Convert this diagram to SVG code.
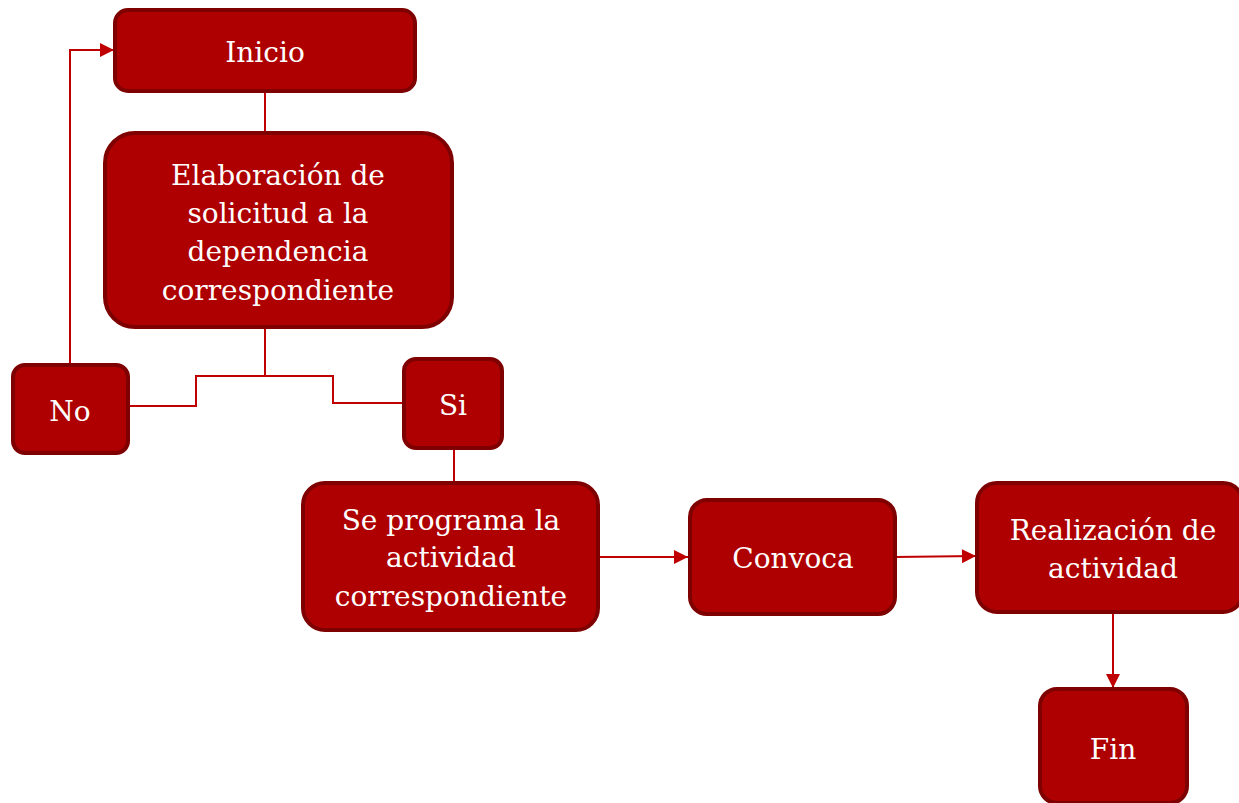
<svg xmlns="http://www.w3.org/2000/svg" width="1239" height="803" viewBox="0 0 1239 803">
<style>
.box{fill:#AE0000;stroke:#7F0000;stroke-width:4}
.t{font-family:"DejaVu Serif","Liberation Serif",serif;font-size:28px;fill:#FFFFFF;text-anchor:middle;dominant-baseline:central}
.c{fill:none;stroke:#C00000;stroke-width:2}
</style>
<defs>
<marker id="arr" viewBox="0 0 10 10" refX="10" refY="5" markerWidth="7.5" markerHeight="7" orient="auto" markerUnits="strokeWidth">
<path d="M0,0 L10,5 L0,10 Z" fill="#C00000"/>
</marker>
</defs>
<rect width="1239" height="803" fill="#FFFFFF"/>
<g id="connectors">
<path class="c" d="M265,91 V133"/>
<path class="c" d="M265,327 V376 H196 V406 H128"/>
<path class="c" d="M265,376 H333 V403 H404"/>
<path class="c" d="M70,365 V50 H114" marker-end="url(#arr)"/>
<path class="c" d="M454,448 V483"/>
<path class="c" d="M598,557 H688" marker-end="url(#arr)"/>
<path class="c" d="M895,557 L976,556" marker-end="url(#arr)"/>
<path class="c" d="M1113,612 V688" marker-end="url(#arr)"/>
</g>
<g id="inicio">
<rect class="box" x="115" y="10" width="300" height="81" rx="13"/>
<text class="t" x="265" y="52">Inicio</text>
</g>
<g id="elaboracion">
<rect class="box" x="105" y="133" width="347" height="194" rx="30"/>
<text class="t" x="278" y="175">Elaboración de</text>
<text class="t" x="278" y="213">solicitud a la</text>
<text class="t" x="278" y="251">dependencia</text>
<text class="t" x="278" y="290">correspondiente</text>
</g>
<g id="no">
<rect class="box" x="13" y="365" width="115" height="88" rx="12"/>
<text class="t" x="70" y="411">No</text>
</g>
<g id="si">
<rect class="box" x="404" y="359" width="98" height="89" rx="12"/>
<text class="t" x="453" y="405">Si</text>
</g>
<g id="programa">
<rect class="box" x="303" y="483" width="295" height="147" rx="22"/>
<text class="t" x="451" y="520">Se programa la</text>
<text class="t" x="451" y="557">actividad</text>
<text class="t" x="451" y="596">correspondiente</text>
</g>
<g id="convoca">
<rect class="box" x="690" y="500" width="205" height="114" rx="17"/>
<text class="t" x="793" y="558">Convoca</text>
</g>
<g id="realizacion">
<rect class="box" x="977" y="483" width="266" height="129" rx="20"/>
<text class="t" x="1113" y="530">Realización de</text>
<text class="t" x="1113" y="568">actividad</text>
</g>
<g id="fin">
<rect class="box" x="1040" y="689" width="147" height="114" rx="17"/>
<text class="t" x="1113" y="749">Fin</text>
</g>
</svg>
